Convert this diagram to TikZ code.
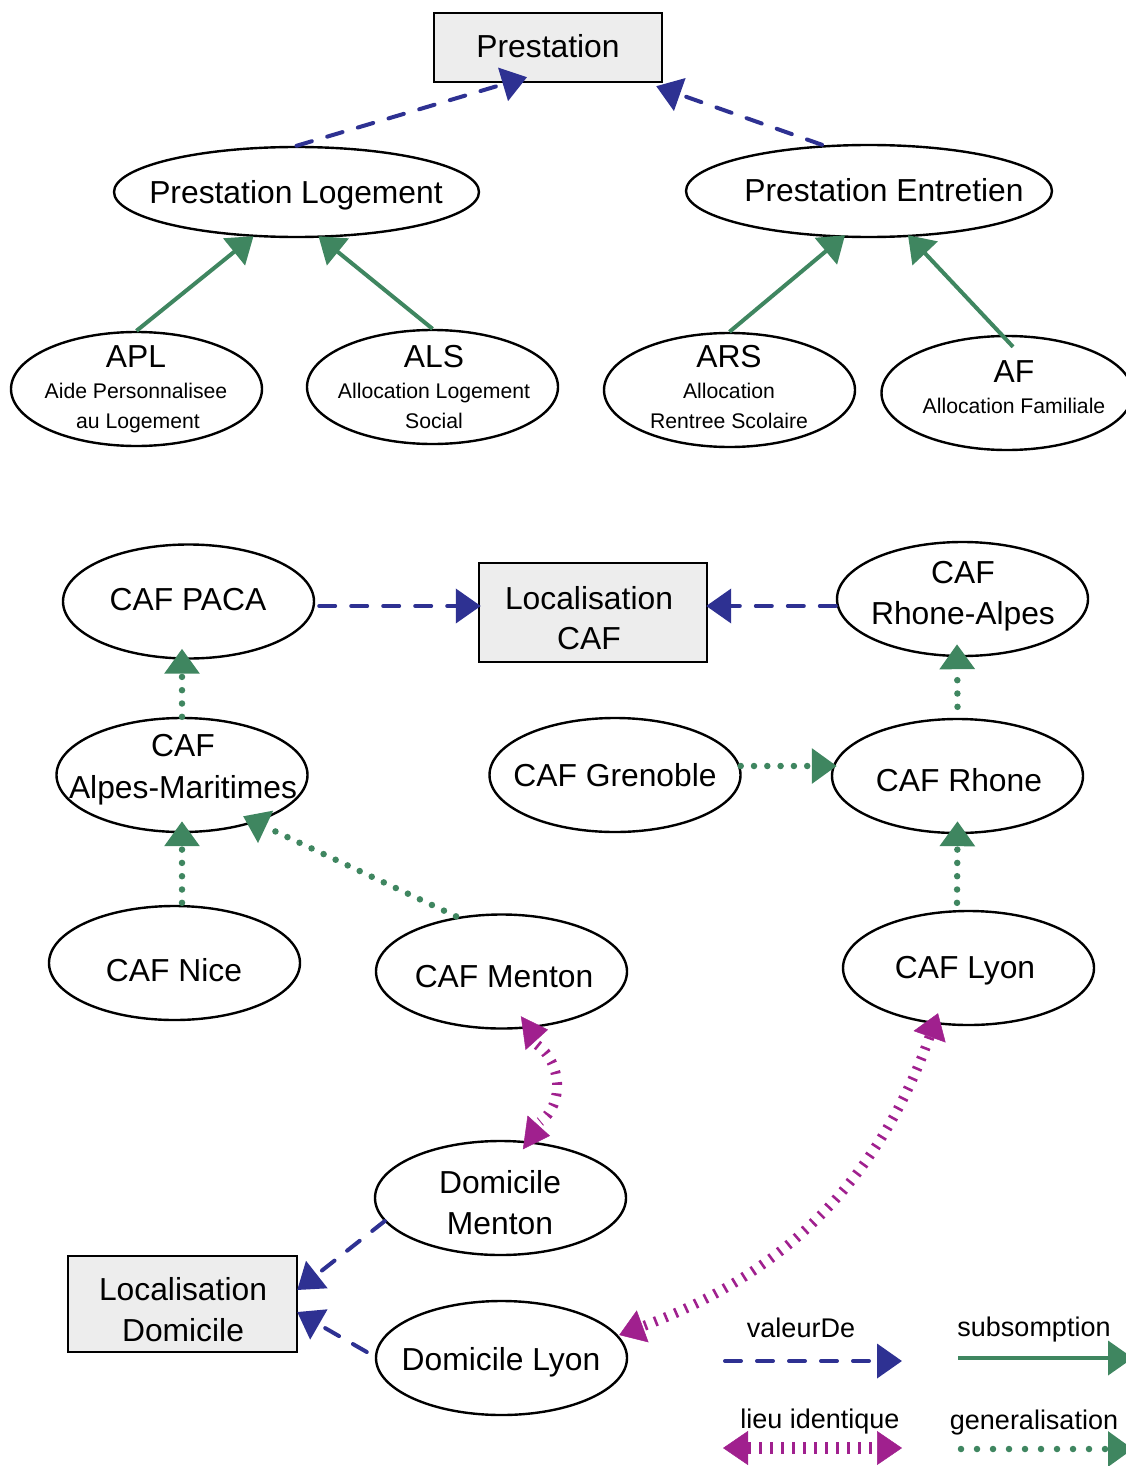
\documentclass[tikz,border=0pt]{standalone}
\usepackage{fontspec}
\setmainfont{Liberation Sans}
\usetikzlibrary{arrows.meta,shapes.geometric,calc}
\definecolor{vblue}{HTML}{2E3192}
\definecolor{sgreen}{HTML}{3F8660}
\definecolor{lmag}{HTML}{A0208E}
\definecolor{boxgray}{HTML}{EDEDED}
\begin{document}
\begin{tikzpicture}[x=1pt,y=-1pt,
  ell/.style={draw=black, line width=2.4pt, ellipse, minimum width=251pt, minimum height=114pt, inner sep=0pt},
  box/.style={draw=black, line width=2.4pt, fill=boxgray, rectangle, inner sep=0pt},
  big/.style={anchor=base, inner sep=0pt, font=\fontsize{31.8}{37}\selectfont},
  small/.style={anchor=base, inner sep=0pt, font=\fontsize{21.2}{25}\selectfont},
  leg/.style={anchor=base, inner sep=0pt, font=\fontsize{27}{32}\selectfont},
  Tri/.tip={Triangle[length=25pt,width=34pt]},
  valeur/.style={draw=vblue, line width=4pt, line cap=round, dash pattern=on 16pt off 16pt, -{Tri}},
  subs/.style={draw=sgreen, line width=4pt, -{Tri}},
  gen/.style={draw=sgreen, line width=6.5pt, line cap=round, dash pattern=on 0pt off 13.3pt, -{Tri}},
  lieu/.style={draw=lmag, line width=0.5pt, line cap=butt, dash pattern=on 0pt off 3000pt, {Tri}-{Tri},
     postaction={draw=lmag, line width=#1, line cap=butt, dash pattern=on 2.6pt off 8.4pt, arrows=-, shorten <=25pt, shorten >=25pt}},
  lieu/.default=10pt,
  lieuticks/.style={draw=lmag, line width=10pt, line cap=butt, dash pattern=on 2.6pt off 8.4pt},
  lieutip/.style={draw=lmag, line width=0.5pt, line cap=butt, dash pattern=on 0pt off 3000pt, -{Tri}}
]
\useasboundingbox (0,0) rectangle (1126,1466);

% ---------- nodes : prestations ----------
\node[box, minimum width=228pt, minimum height=69pt] (prest) at (548,47.5) {};
\node[big] (t-prest) at (548,58) {Prestation};

\node[ell, minimum width=365pt, minimum height=90pt] (plog) at (296.5,192) {};
\node[big] (t-plog) at (296,204) {Prestation Logement};
\node[ell, minimum width=366pt, minimum height=92pt] (pent) at (869,191) {};
\node[big] (t-pent) at (884,201) {Prestation Entretien};

\node[ell] (apl) at (136.5,389) {};
\node[big] (t-apl) at (136,367) {APL};
\node[small] (t-apl2) at (136,398.5) {Aide Personnalisee};
\node[small] (t-apl3) at (138,428.5) {au Logement};

\node[ell] (als) at (432.5,387) {};
\node[big] (t-als) at (434,367) {ALS};
\node[small] (t-als2) at (434,398.5) {Allocation Logement};
\node[small] (t-als3) at (434,428.5) {Social};

\node[ell] (ars) at (729.5,390) {};
\node[big] (t-ars) at (729,367) {ARS};
\node[small] (t-ars2) at (729,398.5) {Allocation};
\node[small] (t-ars3) at (729,428.5) {Rentree Scolaire};

\node[ell] (af) at (1007,393) {};
\node[big] (t-af) at (1014,382) {AF};
\node[small] (t-af2) at (1014,413.5) {Allocation Familiale};

% ---------- nodes : CAF ----------
\node[box, minimum width=228pt, minimum height=99pt] (loccaf) at (593,612.5) {};
\node[big] (t-loccaf) at (589,609) {Localisation};
\node[big] (t-loccaf2) at (589,649) {CAF};

\node[ell] (paca) at (188.5,601.5) {};
\node[big] (t-paca) at (188,610) {CAF PACA};
\node[ell] (ra) at (962.5,599) {};
\node[big] (t-ra) at (963,583) {CAF};
\node[big] (t-ra2) at (963,624) {Rhone-Alpes};
\node[ell] (am) at (182,775) {};
\node[big] (t-am) at (183,756) {CAF};
\node[big] (t-am2) at (183,798) {Alpes-Maritimes};
\node[ell] (gren) at (615,775) {};
\node[big] (t-gren) at (615,786) {CAF Grenoble};
\node[ell] (rhone) at (957.5,776) {};
\node[big] (t-rhone) at (959,791) {CAF Rhone};
\node[ell] (nice) at (174.5,963) {};
\node[big] (t-nice) at (174,981) {CAF Nice};
\node[ell] (cmenton) at (501.5,971.5) {};
\node[big] (t-cmenton) at (504,987) {CAF Menton};
\node[ell] (lyon) at (968.5,968) {};
\node[big] (t-lyon) at (965,978) {CAF Lyon};

% ---------- nodes : domicile ----------
\node[ell] (dmenton) at (500.5,1198) {};
\node[big] (t-dmenton) at (500,1193) {Domicile};
\node[big] (t-dmenton2) at (500,1234) {Menton};
\node[ell] (dlyon) at (501.5,1358) {};
\node[big] (t-dlyon) at (501,1370) {Domicile Lyon};
\node[box, minimum width=229pt, minimum height=96pt] (locdom) at (182.5,1304) {};
\node[big] (t-locdom) at (183,1300) {Localisation};
\node[big] (t-locdom2) at (183,1341) {Domicile};

% ---------- connectors ----------
\draw[valeur] (plog.north) -- ($(prest.south)+(-21,-6)$);
\draw[valeur] ($(pent.north)+(-47,1)$) -- ($(prest.south east)+(-7,3)$);
\draw[subs] (apl.north) -- ($(plog.south)+(-43,-2)$);
\draw[subs] (als.north) -- ($(plog.south)+(22,-2)$);
\draw[subs] (ars.north) -- ($(pent.south)+(-24,-3)$);
\draw[subs] ($(af.north)+(6,12)$) -- ($(pent.south)+(39,-3)$);

\draw[valeur] ($(paca.east)+(4,4.5)$) -- ($(loccaf.west)+(3,-6.5)$);
\draw[valeur] ($(ra.west)+(0,7)$) -- ($(loccaf.east)+(-2,-6.5)$);
\draw[gen] (am.north) -- ($(paca.south)+(-6.5,-11)$);
\draw[gen] ($(nice.north)+(7.5,-2)$) -- ($(am.south)+(0,-12)$);
\draw[gen] ($(cmenton.north)+(-45.5,3)$) -- ($(am.south)+(61,-17)$);
\draw[gen] ($(gren.east)+(-1,-9)$) -- ($(rhone.west)+(6,-10)$);
\draw[gen] ($(rhone.north)+(0,-11)$) -- ($(ra.south)+(-5.5,-13)$);
\draw[gen] ($(lyon.north)+(-11.5,-7)$) -- ($(rhone.south)+(0,-13)$);

% lieu identique : CAF Menton <-> Domicile Menton
\draw[lieuticks] ($(cmenton.south)+(35.5,15)$) to[out=-35,in=35] ($(dmenton.north)+(39.5,-18)$);
\draw[lieutip] ($(cmenton.south)+(17.5,4)$) -- ($(cmenton.south)+(46.5,0)$);
\draw[lieutip] ($(dmenton.north)+(20.5,-8)$) -- ($(dmenton.north)+(49.5,-4)$);
% lieu identique : CAF Lyon <-> Domicile Lyon
\draw[lieu] ($(lyon.south)+(-30.5,-13)$) to[bend left=25] ($(dlyon.east)+(-9,-23)$);

\draw[valeur] ($(dmenton.west)+(11,23)$) -- ($(locdom.east)+(-1,-14)$);
\draw[valeur] ($(dlyon.west)+(-8,-6)$) -- ($(locdom.east)+(-1,8)$);

% ---------- legend ----------
\node[leg] (t-lv) at (801,1337) {valeurDe};
\node[leg] (t-ls) at (1034,1336) {subsomption};
\node[leg] (t-ll) at (820,1428) {lieu identique};
\node[leg] (t-lg) at (1034,1429) {generalisation};
\coordinate (lv1) at (725,1361); \coordinate (lv2) at (902,1361);
\coordinate (ls1) at (958,1358); \coordinate (ls2) at (1133,1358);
\coordinate (ll1) at (723,1448); \coordinate (ll2) at (902,1448);
\coordinate (lg1) at (961,1449); \coordinate (lg2) at (1133,1449);
\draw[valeur] (lv1) -- (lv2);
\draw[subs] (ls1) -- (ls2);
\draw[lieu=12pt] (ll1) -- (ll2);
\draw[gen, dash pattern=on 0pt off 16pt] (lg1) -- (lg2);
\end{tikzpicture}
\end{document}
